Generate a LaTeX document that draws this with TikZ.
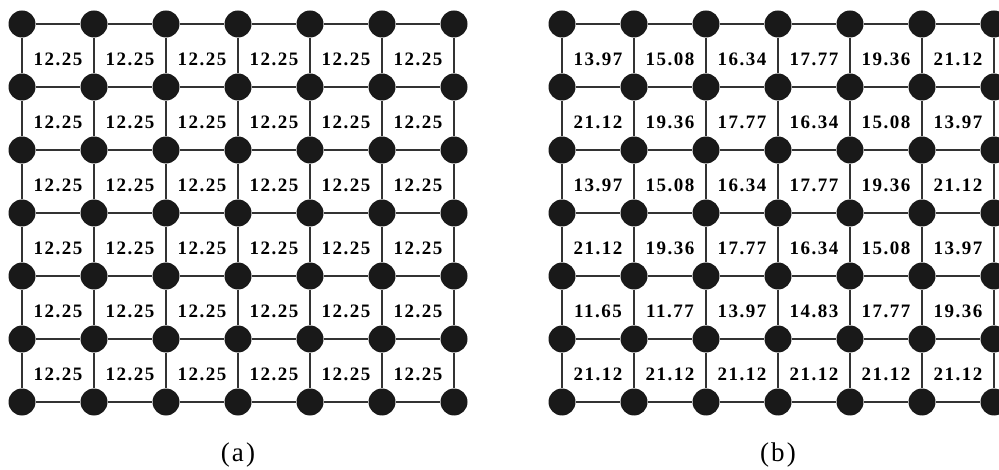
\documentclass[tikz,border=0pt]{standalone}
\usepackage{fontspec}
\setmainfont{Liberation Serif}
\begin{document}
\begin{tikzpicture}[
    x=1pt, y=-1pt,
    dot/.style={circle, fill=black!90, minimum size=27pt, inner sep=0pt},
    link/.style={draw=black!80, line width=1.3pt},
    val/.style={font=\fontsize{19}{22}\selectfont\bfseries\addfontfeature{LetterSpace=8}},
    subcap/.style={font=\fontsize{27}{30}\selectfont\addfontfeature{LetterSpace=8}}
]
    \useasboundingbox (0,0) rectangle (999,470);

    % Dots
    \foreach \i in {0,...,6} {
        \foreach \j in {0,...,6} {
            \node[dot] (a\i\j) at ({22+72*\j},{24+63*\i}) {};
            \node[dot] (b\i\j) at ({562+72*\j},{24+63*\i}) {};
        }
    }

    % Links
    \foreach \g in {a,b} {
        \foreach \i in {0,...,6} {
            \foreach \j [evaluate=\j as \k using int(\j+1)] in {0,...,5} {
                \draw[link] (\g\i\j) -- (\g\i\k);
                \draw[link] (\g\j\i) -- (\g\k\i);
            }
        }
    }

    % Values (a)
    \foreach \i in {0,...,5} {
        \foreach \j in {0,...,5} {
            \node[val] (va\i\j) at ({58+72*\j},{59+63*\i}) {12.25};
        }
    }

    % Values (b)
    \foreach \row [count=\i from 0] in {
        {13.97,15.08,16.34,17.77,19.36,21.12},
        {21.12,19.36,17.77,16.34,15.08,13.97},
        {13.97,15.08,16.34,17.77,19.36,21.12},
        {21.12,19.36,17.77,16.34,15.08,13.97},
        {11.65,11.77,13.97,14.83,17.77,19.36},
        {21.12,21.12,21.12,21.12,21.12,21.12}} {
        \foreach \v [count=\j from 0] in \row {
            \node[val] (vb\i\j) at ({598+72*\j},{59+63*\i}) {\v};
        }
    }

    % Captions
    \node[subcap] (capa) at (238,455) {(a)};
    \node[subcap] (capb) at (778,455) {(b)};
\end{tikzpicture}
\end{document}
